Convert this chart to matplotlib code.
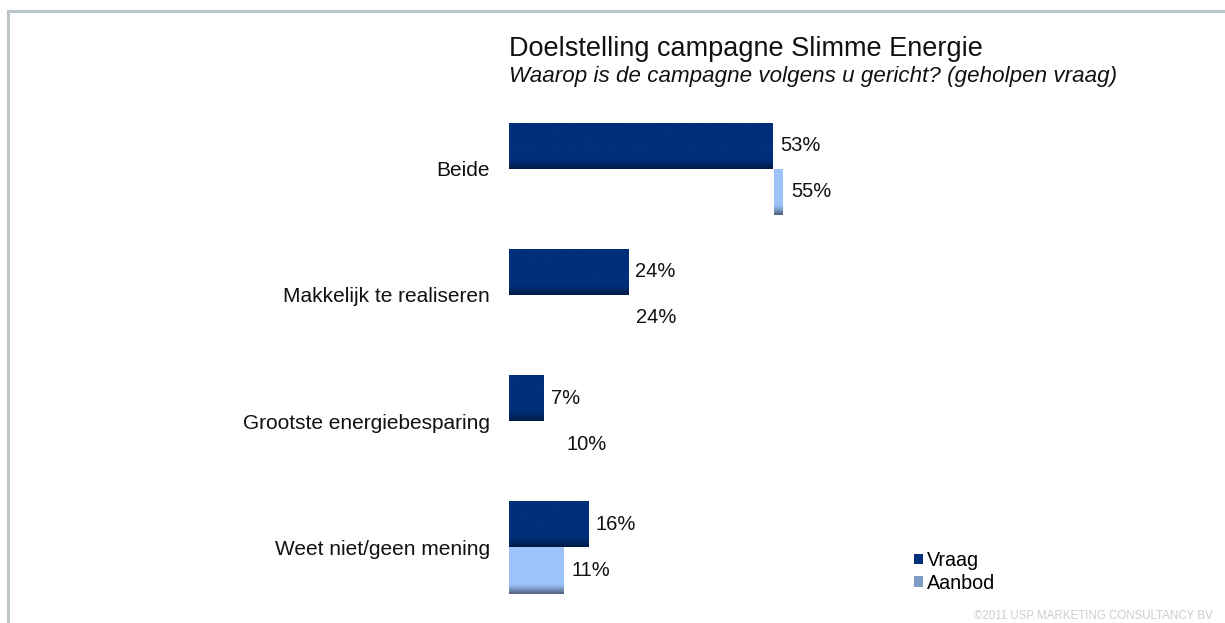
import matplotlib
matplotlib.use("Agg")
from matplotlib import pyplot as plt
from matplotlib.colors import LinearSegmentedColormap
from matplotlib.patches import Patch
from matplotlib.lines import Line2D
import numpy as np

plt.rcParams['font.family'] = ['Liberation Sans', 'DejaVu Sans']

categories = ['Beide', 'Makkelijk te realiseren', 'Grootste energiebesparing',
              'Weet niet/geen mening']
vraag = [53, 24, 7, 16]
aanbod = [55, 24, 10, 11]
# part of the Aanbod bar that is actually visible in the original (starts here)
aanbod_visible_from = [53.3, 24, 10, 0]

title = 'Doelstelling campagne Slimme Energie'
subtitle = 'Waarop is de campagne volgens u gericht? (geholpen vraag)'
copyright_txt = '\u00a92011 USP MARKETING CONSULTANCY BV'

c_vraag = '#00307A'
c_vraag_dark = '#001A45'
c_aanbod = '#9DC3FB'
c_aanbod_dark = '#4F607A'


def gradient_fill(ax, patch, top, bottom):
    # vertical gradient, darker band at the bottom of the bar
    x0, y0 = patch.get_x(), patch.get_y()
    w, h = patch.get_width(), patch.get_height()
    if w <= 0:
        return
    cmap = LinearSegmentedColormap.from_list('g', [top, top, bottom])
    grad = np.linspace(0, 1, 100) ** 3
    grad = grad.reshape(-1, 1)
    im = ax.imshow(grad, cmap=cmap, vmin=0, vmax=1, aspect='auto',
                   extent=(x0, x0 + w, y0 + h, y0), origin='upper', zorder=2)
    im.set_clip_path(patch)
    patch.set_alpha(0)


fig = plt.figure(figsize=(12.25, 6.23), dpi=100)
ax = fig.add_axes([509 / 1225, 0.0199, 498 / 1225, 0.8108])

y = np.arange(len(categories))
h = 0.365
vis_from = np.array(aanbod_visible_from)
vis_w = np.array(aanbod) - vis_from

bars_v = ax.barh(y - h / 2, vraag, height=h, color=c_vraag, zorder=2)
bars_a = ax.barh(y + h / 2, vis_w, left=vis_from, height=h, color=c_aanbod, zorder=2)

for b in bars_v:
    gradient_fill(ax, b, c_vraag, c_vraag_dark)
for b in bars_a:
    gradient_fill(ax, b, c_aanbod, c_aanbod_dark)

for i in range(len(categories)):
    ax.text(vraag[i] + 1.4, y[i] - h / 2, f'{vraag[i]}%', va='center', ha='left',
            fontsize=14.5, color='#111111')
    ax.text(aanbod[i] + 1.6, y[i] + h / 2, f'{aanbod[i]}%', va='center', ha='left',
            fontsize=14.5, color='#111111')

ax.set_xlim(0, 100)
ax.set_ylim(3.5, -0.5)
ax.set_yticks(y)
ax.set_yticklabels(categories, fontsize=15, color='#111111')
ax.tick_params(axis='y', length=0, pad=13.7)
ax.set_xticks([])
for s in ax.spines.values():
    s.set_visible(False)

fig.text(509 / 1225, 1 - 56 / 623, title, fontsize=19.5, va='baseline', ha='left',
         color='#111111')
fig.text(509 / 1225, 1 - 82 / 623, subtitle, fontsize=16.1, style='italic',
         va='baseline', ha='left', color='#111111')

handles = [Patch(facecolor=c_vraag, edgecolor='none'),
           Patch(facecolor='#7F9CC4', edgecolor='none')]
fig.legend(handles, ['Vraag', 'Aanbod'], loc='upper left',
           bbox_to_anchor=(904 / 1225, 1 - 541 / 623), frameon=False,
           fontsize=14.2, handlelength=0.45, handleheight=0.45,
           handletextpad=0.2, labelspacing=0.2, borderpad=0)

fig.text(1213 / 1225, 1 - 616 / 623, copyright_txt, fontsize=8.3, ha='right',
         va='center', color='#C9CED1')

# grey frame (top and left edge)
fig.add_artist(Line2D([8 / 1225, 1.0], [1 - 10.5 / 623, 1 - 10.5 / 623],
                      color='#BCC5CA', lw=2.2, transform=fig.transFigure))
fig.add_artist(Line2D([8 / 1225, 8 / 1225], [1 - 10.5 / 623, 0.0],
                      color='#BCC5CA', lw=2.2, transform=fig.transFigure))

fig.savefig('out.png', dpi=100)
